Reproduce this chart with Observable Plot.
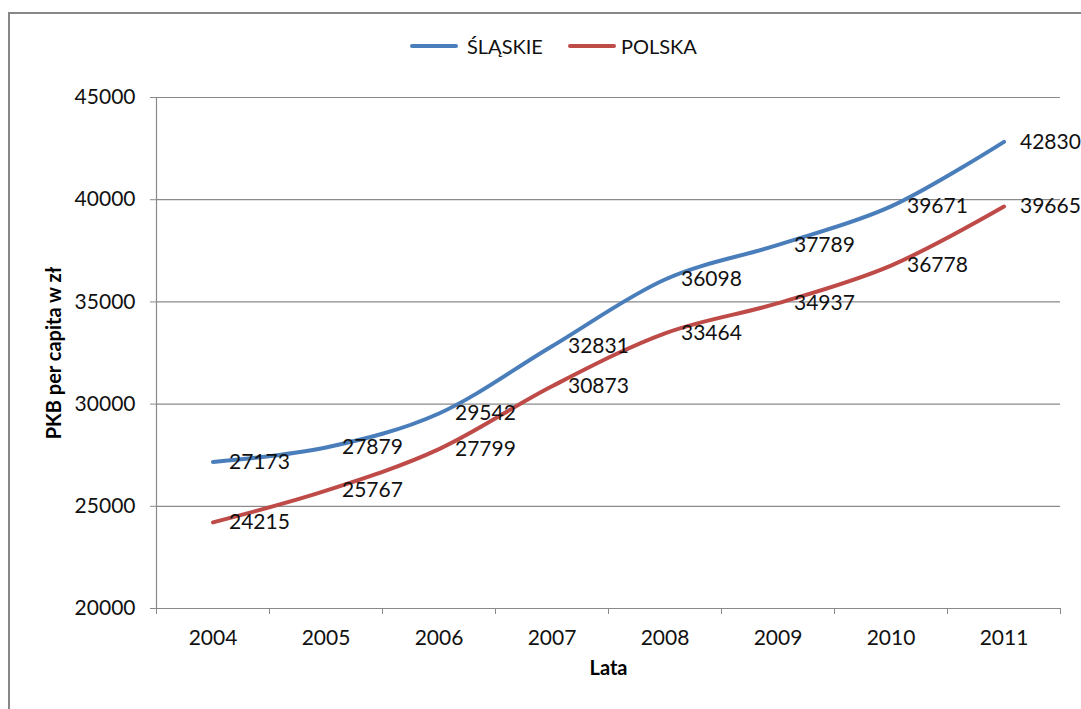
<!DOCTYPE html>
<html>
<head>
<meta charset="utf-8">
<script src="https://cdn.jsdelivr.net/npm/d3@7"></script>
<script src="https://cdn.jsdelivr.net/npm/@observablehq/plot@0.6"></script>
<style>
  html, body { margin: 0; padding: 0; background: #fff; }
  #wrap { position: relative; width: 1081px; height: 709px; overflow: hidden; font-family: Lato, "Open Sans", sans-serif; }
  #border { position: absolute; left: 8px; top: 12px; width: 1200px; height: 800px; border-left: 2px solid #878787; border-top: 2px solid #878787; }
  #legend { position: absolute; top: 34px; left: 410px; display: flex; align-items: center; font-size: 20px; color: #111; }
  .sw { display: inline-block; width: 48px; height: 4px; border-radius: 2px; }
  #chart { position: absolute; left: 0; top: 0; }
</style>
</head>
<body>
<div id="wrap">
  <div id="border"></div>
  <div id="chart"></div>
  <div id="legend"></div>
</div>
<script>
const years = [2004, 2005, 2006, 2007, 2008, 2009, 2010, 2011];
const slaskie = [27173, 27879, 29542, 32831, 36098, 37789, 39671, 42830];
const polska = [24215, 25767, 27799, 30873, 33464, 34937, 36778, 39665];
const seriesNames = ["ŚLĄSKIE", "POLSKA"];
const seriesColors = ["#4A7EBB", "#BE4B48"];
const yTicks = [20000, 25000, 30000, 35000, 40000, 45000];

const data = [];
years.forEach((yr, i) => {
  data.push({year: yr, value: slaskie[i], series: seriesNames[0]});
  data.push({year: yr, value: polska[i], series: seriesNames[1]});
});
const boundaries = d3.range(years.length + 1).map(i => years[0] - 0.5 + i);

const chart = Plot.plot({
  width: 1081,
  height: 709,
  marginLeft: 156,
  marginRight: 21,
  marginTop: 97,
  marginBottom: 101,
  style: {fontFamily: "Lato, 'Open Sans', sans-serif", fontSize: "21px", color: "#111", background: "transparent"},
  x: {type: "linear", domain: [years[0] - 0.5, years[years.length - 1] + 0.5]},
  y: {domain: [20000, 45000]},
  color: {domain: seriesNames, range: seriesColors},
  marks: [
    Plot.gridY(yTicks, {stroke: "#8a8a8a", strokeOpacity: 1, strokeWidth: 1.2}),
    Plot.ruleX([years[0] - 0.5], {y1: 20000, y2: 45000, stroke: "#8a8a8a", strokeWidth: 1.2}),
    Plot.axisY({ticks: yTicks, tickSize: 6, tickPadding: 15, stroke: "#8a8a8a", tickFormat: d => String(d), label: null, fontSize: 21}),
    Plot.axisX({ticks: boundaries, tickSize: 6, tickFormat: () => "", stroke: "#8a8a8a", label: null}),
    Plot.axisX({ticks: years, tickSize: 0, tickPadding: 22, tickFormat: d => String(d), label: null, fontSize: 21}),
    Plot.line(data, {x: "year", y: "value", stroke: "series", z: "series", curve: "cardinal", strokeWidth: 4, strokeLinecap: "round"}),
    Plot.text(data, {x: "year", y: "value", text: d => String(d.value), dx: 16, textAnchor: "start", lineAnchor: "middle", fill: "#111", fontSize: 21}),
    Plot.text(["PKB per capita w zł"], {frameAnchor: "left", dx: -102, rotate: -90, fontWeight: "bold", fontSize: 20, fill: "#000", textAnchor: "middle"}),
    Plot.text(["Lata"], {frameAnchor: "bottom", dy: 66, fontWeight: "bold", fontSize: 20, fill: "#000"})
  ]
});
document.getElementById("chart").appendChild(chart);

const legend = document.getElementById("legend");
seriesNames.forEach((name, i) => {
  const sw = document.createElement("span");
  sw.className = "sw";
  sw.style.background = seriesColors[i];
  sw.style.marginRight = i === 0 ? "9px" : "5px";
  const t = document.createElement("span");
  t.textContent = name;
  t.style.marginRight = "25px";
  legend.appendChild(sw);
  legend.appendChild(t);
});
</script>
</body>
</html>
